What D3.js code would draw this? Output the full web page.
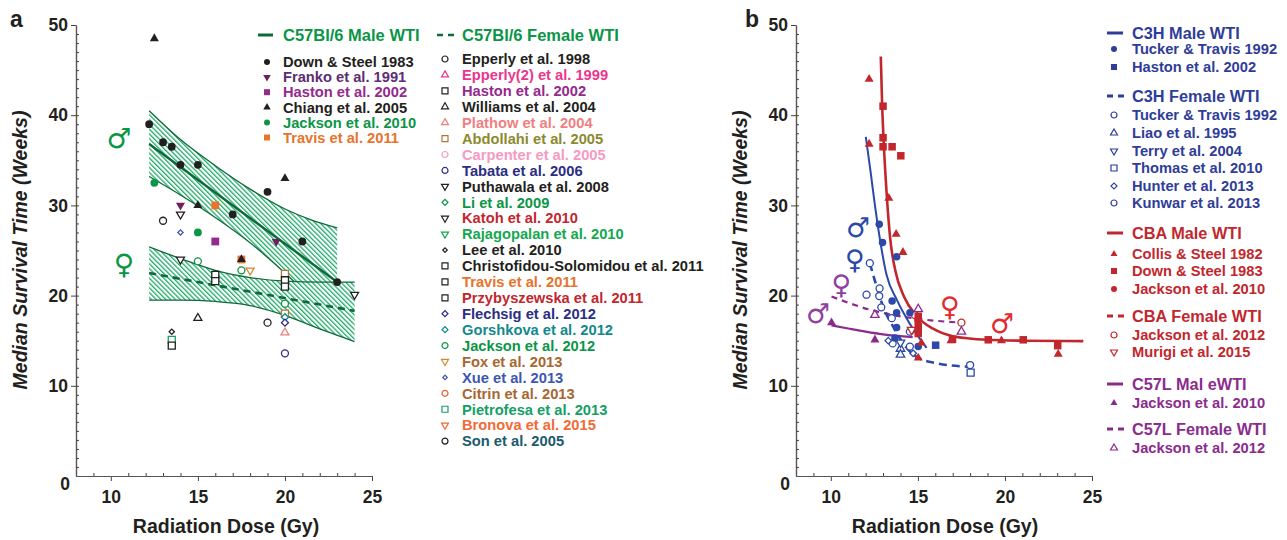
<!DOCTYPE html>
<html><head><meta charset="utf-8">
<script src="https://cdn.jsdelivr.net/npm/d3@7"></script>
<style>
body{margin:0;background:#fff}
svg{display:block}
text{font-family:"Liberation Sans",Arial,Helvetica,sans-serif;font-weight:bold}
.sex{font-family:"DejaVu Sans",sans-serif;font-weight:bold}
</style>
</head><body>
<svg id="c" width="1287" height="540"></svg>
<script>
// ---------------- DATA ----------------
const xTicks = [10, 15, 20, 25];
const yTicks = [10, 20, 30, 40, 50];

// Panel a: study names
const aMaleStudies = ["Down & Steel 1983","Franko et al. 1991","Haston et al. 2002","Chiang et al. 2005","Jackson et al. 2010","Travis et al. 2011"];
const aFemaleStudies = ["Epperly et al. 1998","Epperly(2) et al. 1999","Haston et al. 2002","Williams et al. 2004","Plathow et al. 2004","Abdollahi et al. 2005","Carpenter et al. 2005","Tabata et al. 2006","Puthawala et al. 2008","Li et al. 2009","Katoh et al. 2010","Rajagopalan et al. 2010","Lee et al. 2010","Christofidou-Solomidou et al. 2011","Travis et al. 2011","Przybyszewska et al. 2011","Flechsig et al. 2012","Gorshkova et al. 2012","Jackson et al. 2012","Fox et al. 2013","Xue et al. 2013","Citrin et al. 2013","Pietrofesa et al. 2013","Bronova et al. 2015","Son et al. 2005"];

// Panel a points: [study index, dose (Gy), median survival (weeks)]
const aMalePoints = [
  [0,12.2,39.0],[0,13.0,37.0],[0,13.5,36.5],[0,14.0,34.5],[0,15.0,34.5],[0,17.0,29.0],[0,19.0,31.5],[0,21.0,26.0],[0,23.0,21.5],
  [1,14.0,30.0],[1,19.5,26.0],
  [2,16.0,26.0],
  [4,12.5,32.5],[4,15.0,27.0],
  [5,16.0,30.0],[5,17.5,24.0],
  [3,12.5,48.5],[3,15.0,30.0],[3,20.0,33.0],[3,17.5,24.0]
];
const aFemalePoints = [
  [0,13.0,28.3],
  [8,14.0,29.0],[8,14.0,24.0],[8,24.0,20.1],
  [20,14.0,27.0],
  [18,15.0,23.8],[18,17.5,22.8],[18,20.0,19.1],
  [19,18.0,22.8],
  [13,16.0,22.3],[13,16.0,21.6],
  [5,20.0,22.4],[5,20.0,18.0],
  [14,20.0,21.7],
  [15,20.0,21.0],
  [17,20.0,17.6],
  [16,20.0,17.0],
  [4,20.0,15.9],
  [7,20.0,13.6],
  [24,19.0,17.0],
  [12,13.5,16.0],
  [22,13.5,15.1],
  [2,13.5,14.45],
  [3,15.0,17.5]
];
// Panel a fits and confidence bands
const aMaleFit = [[12.2,36.8],[23.0,21.5]];
const aMaleBandX = [12.2,14,16,18,20,21.5,23];
const aMaleBandUpper = [40.5,37.3,34.4,31.8,29.6,28.4,27.5];
const aMaleBandLower = [33.2,31.15,28.65,25.85,22.5,19.7,16.4];
const aFemaleFit = [[12.2,22.5],[24.0,18.3]];
const aFemaleBandX = [12.2,14,16,18,20,22,24];
const aFemaleBandUpper = [25.4,24.1,22.8,22.0,21.6,21.5,21.5];
const aFemaleBandLower = [19.5,19.5,19.35,18.9,17.8,16.3,14.9];

// Panel b groups and studies
const bGroups = ["C3H Male WTI","C3H Female WTI","CBA Male WTI","CBA Female WTI","C57L Mal eWTI","C57L Female WTI"];
const bC3HMaleStudies = ["Tucker & Travis 1992","Haston et al. 2002"];
const bC3HFemaleStudies = ["Tucker & Travis 1992","Liao et al. 1995","Terry et al. 2004","Thomas et al. 2010","Hunter  et al. 2013","Kunwar et al. 2013"];
const bCBAMaleStudies = ["Collis & Steel 1982","Down & Steel 1983","Jackson et al. 2010"];
const bCBAFemaleStudies = ["Jackson et al. 2012","Murigi et al. 2015"];
const bC57LMaleStudies = ["Jackson et al. 2010"];
const bC57LFemaleStudies = ["Jackson et al. 2012"];

// Panel b points: [group index, study index, dose, survival]
const bPoints = [
  [1,0,12.05,20.1],[1,0,12.8,20.8],[1,0,12.9,18.7],[1,0,13.5,17.5],[1,0,13.55,14.7],[1,0,14.54,16.0],[1,0,14.54,14.35],[1,0,18.0,12.3],
  [1,1,14.0,14.1],[1,1,14.0,13.45],
  [1,2,14.0,14.8],
  [1,3,18.03,11.45],
  [1,4,13.3,15.0],[1,4,14.73,13.6],
  [1,5,12.24,23.6],[1,5,12.78,19.95],
  [3,0,14.83,17.85],[3,0,17.5,17.0],
  [3,1,14.64,16.2],
  [5,0,12.53,17.85],[5,0,15.02,18.5],[5,0,17.5,16.0],
  [4,0,10.04,17.0],[4,0,12.53,15.1],
  [0,0,12.78,27.9],[0,0,12.97,25.9],[0,0,13.78,24.3],[0,0,13.52,19.4],[0,0,13.78,18.1],[0,0,14.54,18.1],[0,0,13.78,16.45],[0,0,13.68,15.3],[0,0,15.02,14.35],
  [0,1,16.02,14.5],
  [2,0,12.2,44.0],[2,0,12.2,36.8],[2,0,13.33,30.8],[2,0,13.75,26.8],[2,0,14.14,24.8],[2,0,15.2,14.75],[2,0,16.9,15.0],[2,0,19.8,15.0],[2,0,23.06,13.5],[2,0,15.02,13.1],
  [2,1,13.0,41.0],[2,1,13.0,37.5],[2,1,13.0,36.5],[2,1,13.52,36.5],[2,1,14.02,35.5],[2,1,15.02,17.7],[2,1,15.02,16.55],[2,1,15.02,15.8],[2,1,16.99,15.15],[2,1,19.04,15.1],[2,1,21.05,15.1],[2,1,23.03,14.45],
  [2,2,15.0,17.2]
];
// Panel b fitted curves
const bC3HMaleCurve = [[12.01,37.6],[12.3,33.5],[12.5,30.5],[12.8,26.5],[13.2,22.3],[13.8,19.5],[14.5,17.0],[15.5,14.2]];
const bC3HFemaleCurve = [[12.24,23.6],[12.63,21.0],[13.0,18.8],[13.58,16.55],[14.16,14.7],[14.93,13.2],[16.07,12.5],[18.0,12.1]];
const bCBAMaleCurve = [[12.87,46.5],[12.95,41],[13.05,36.5],[13.2,31.5],[13.4,26.5],[13.7,22.8],[14.2,19.9],[14.9,17.8],[15.9,16.3],[17.0,15.5],[19.0,15.1],[21.0,15.0],[24.5,14.95]];
const bC57LMaleCurve = [[10.04,16.7],[11,16.35],[12,16.0],[13,15.7],[14.7,15.4]];
const bC57LFemaleCurve = [[10.04,19.9],[12.5,18.3],[14.7,17.5],[17.5,17.0]];

// ---------------- STYLES ----------------
const GREEN = "#0b9547", DKGREEN = "#0d6a3a", HATCH = "#22ad6a";
const BLUE = "#2e3d98", BLUE2 = "#2c48a8", RED = "#c1272d", PURPLE = "#8b2c8d", BLACK = "#231f20";
// [text colour, marker, marker colour, filled]
const aMaleStyle = [
  [BLACK,"circle",BLACK,1],["#5c2d72","down","#6d1f5e",1],["#94298e","square","#94298e",1],
  [BLACK,"up",BLACK,1],[GREEN,"circle",GREEN,1],["#e8732c","square","#e8732c",1]];
const aFemaleStyle = [
  [BLACK,"circle",BLACK],["#e9368e","up","#e9368e"],["#94298e","square",BLACK],[BLACK,"up",BLACK],
  ["#f07f7f","up","#f07f7f"],["#8c8a2e","square","#b07537"],["#f59ac2","circle","#f59ac2"],["#2b2e83","circle","#2b2e83"],
  [BLACK,"down",BLACK],[GREEN,"diamond",GREEN],[RED,"down",BLACK],["#14a850","down","#14a850"],
  [BLACK,"sdiamond",BLACK],[BLACK,"square",BLACK],["#e8732c","square",BLACK],[RED,"square",BLACK],
  ["#2b2e83","diamond","#2b2e83"],["#12898c","diamond","#12898c"],[GREEN,"circle",GREEN],["#a8672e","down","#d4892f"],
  ["#3d56b0","sdiamond","#3d56b0"],["#a8672e","circle","#e8602c"],["#14a065","square","#14a065"],["#f26a36","down","#f26a36"],
  ["#1b5a6e","circle",BLACK]];
const bGroupColor = [BLUE, BLUE, RED, RED, PURPLE, PURPLE];
const bMarkColor = [BLUE2, BLUE2, RED, RED, PURPLE, PURPLE];
const bGroupDash = [false, true, false, true, false, true];
const bMarkStyle = [
  [["circle",1],["square",1]],
  [["circle",0],["up",0],["down",0],["square",0],["diamond",0],["circle",0]],
  [["up",1],["square",1],["circle",1]],
  [["circle",0],["down",0]],
  [["up",1]],
  [["up",0]]];
const bStudyLists = [bC3HMaleStudies,bC3HFemaleStudies,bCBAMaleStudies,bCBAFemaleStudies,bC57LMaleStudies,bC57LFemaleStudies];
const bHeaderY = [33, 96, 233, 316, 384, 429];
const bEntryY = [[49,67],[115,133,151,168,186,203],[254,271,289],[335,352],[403],[448]];

// ---------------- DRAW ----------------
const svg = d3.select("#c");
const defs = svg.append("defs");
const pat = defs.append("pattern").attr("id","hatch").attr("width",3.4).attr("height",3.4)
  .attr("patternUnits","userSpaceOnUse").attr("patternTransform","rotate(-45)");
pat.append("rect").attr("width",3.4).attr("height",3.4).attr("fill","#fff");
pat.append("rect").attr("width",1.3).attr("height",3.4).attr("fill",HATCH);

function mark(g, type, cx, cy, s, color, filled, sw) {
  let p, tr = `translate(${cx},${cy})`;
  if (type === "circle") p = d3.symbol(d3.symbolCircle, Math.PI*(s/2)*(s/2))();
  else if (type === "square") p = d3.symbol(d3.symbolSquare, s*s)();
  else if (type === "up" || type === "down") { p = d3.symbol(d3.symbolTriangle, Math.sqrt(3)/4*s*s)(); if (type==="down") tr += " rotate(180)"; }
  else { const q = type === "sdiamond" ? s*0.75 : s; p = d3.symbol(d3.symbolSquare, q*q/2)(); tr += " rotate(45)"; }
  g.append("path").attr("d", p).attr("transform", tr)
    .attr("fill", filled ? color : "#fff").attr("stroke", color)
    .attr("stroke-width", filled ? 0 : (sw || 1.3));
}

function axes(x, y, labelX, labelY, panelLetter, letterX) {
  const g = svg.append("g");
  const ax = g.append("g").attr("transform", `translate(0,${y(0)})`);
  ax.call(d3.axisBottom(x).tickValues(xTicks).tickSize(5).tickSizeOuter(0).tickPadding(10).tickFormat(d3.format("d")));
  const axm = g.append("g").attr("transform", `translate(0,${y(0)})`);
  axm.call(d3.axisBottom(x).tickValues(d3.range(9, 25).filter(v => v % 5)).tickSize(-3).tickSizeOuter(0).tickFormat(""));
  const ay = g.append("g").attr("transform", `translate(${x(8)},0)`);
  ay.call(d3.axisLeft(y).tickValues(yTicks).tickSize(5).tickSizeOuter(0).tickPadding(3).tickFormat(d3.format("d")));
  const aym = g.append("g").attr("transform", `translate(${x(8)},0)`);
  aym.call(d3.axisLeft(y).tickValues(d3.range(1, 50)).tickSize(-3).tickSizeOuter(0).tickFormat(""));
  g.selectAll(".domain").attr("stroke", "#555").attr("stroke-width", 1.2);
  g.selectAll(".tick line").attr("stroke", "#444");
  g.selectAll(".tick text").attr("font-size", 17.5).attr("fill", BLACK)
    .attr("font-family", '"Liberation Sans",Arial,sans-serif').attr("font-weight", "bold");
  g.append("text").attr("x", x(8) - 11).attr("y", y(0) + 14).attr("text-anchor", "middle")
    .attr("font-size", 17.5).attr("fill", BLACK).text("0");
  g.append("text").attr("x", labelX).attr("y", 533).attr("text-anchor", "middle")
    .attr("font-size", 19.5).attr("fill", BLACK).text("Radiation Dose (Gy)");
  g.append("text").attr("transform", `translate(${labelY},250) rotate(-90)`).attr("text-anchor", "middle")
    .attr("font-size", 19.5).attr("font-style", "italic").attr("fill", BLACK).text("Median Survival Time (Weeks)");
  g.append("text").attr("x", letterX).attr("y", 27).attr("font-size", 23).attr("fill", BLACK).text(panelLetter);
}

// ---- Panel a ----
const xA = d3.scaleLinear().domain([8, 25]).range([76, 372]);
const yA = d3.scaleLinear().domain([0, 50]).range([476, 25]);
const xB = d3.scaleLinear().domain([8, 25]).range([796, 1092]);
const yB = d3.scaleLinear().domain([0, 50]).range([476, 25]);

const pa = svg.append("g");
function band(xs, up, lo) {
  const d = xs.map((v, i) => [v, up[i], lo[i]]);
  const area = d3.area().x(e => xA(e[0])).y1(e => yA(e[1])).y0(e => yA(e[2])).curve(d3.curveMonotoneX);
  pa.append("path").attr("d", area(d)).attr("fill", "url(#hatch)").attr("stroke", "none");
  const lu = d3.line().x(e => xA(e[0])).y(e => yA(e[1])).curve(d3.curveMonotoneX);
  const ll = d3.line().x(e => xA(e[0])).y(e => yA(e[2])).curve(d3.curveMonotoneX);
  pa.append("path").attr("d", lu(d)).attr("fill", "none").attr("stroke", DKGREEN).attr("stroke-width", 1.3);
  pa.append("path").attr("d", ll(d)).attr("fill", "none").attr("stroke", DKGREEN).attr("stroke-width", 1.3);
}
band(aMaleBandX, aMaleBandUpper, aMaleBandLower);
band(aFemaleBandX, aFemaleBandUpper, aFemaleBandLower);
const lineA = d3.line().x(e => xA(e[0])).y(e => yA(e[1]));
pa.append("path").attr("d", lineA(aMaleFit)).attr("stroke", DKGREEN).attr("stroke-width", 2.4).attr("fill", "none");
pa.append("path").attr("d", lineA(aFemaleFit)).attr("stroke", DKGREEN).attr("stroke-width", 2.6).attr("fill", "none").attr("stroke-dasharray", "7,5");

aFemalePoints.forEach(p => {
  const s = aFemaleStyle[p[0]];
  mark(pa, s[1], xA(p[1]), yA(p[2]), s[1] === "up" || s[1] === "down" ? 8 : 7, s[2], false);
});
aMalePoints.forEach(p => {
  const s = aMaleStyle[p[0]];
  mark(pa, s[1], xA(p[1]), yA(p[2]), s[1] === "up" || s[1] === "down" ? 9 : 7.8, s[2], true);
});

// sex symbols panel a
pa.append("text").attr("class", "sex").attr("x", 119).attr("y", 138).attr("text-anchor", "middle").attr("dy", "0.35em")
  .attr("font-size", 28).attr("fill", GREEN).text("\u2642");
pa.append("text").attr("class", "sex").attr("x", 124).attr("y", 264).attr("text-anchor", "middle").attr("dy", "0.35em")
  .attr("font-size", 28).attr("fill", GREEN).text("\u2640");

// Legend panel a
const la = svg.append("g");
la.append("line").attr("x1", 258).attr("x2", 273).attr("y1", 35).attr("y2", 35).attr("stroke", DKGREEN).attr("stroke-width", 3);
la.append("text").attr("x", 283).attr("y", 35).attr("dy", "0.36em").attr("font-size", 16.5).attr("fill", GREEN).text("C57Bl/6 Male WTI");
aMaleStudies.forEach((n, i) => {
  const y = 62 + i * 15.1, s = aMaleStyle[i];
  mark(la, s[1], 267, y, s[1] === "up" || s[1] === "down" ? 7.5 : 6, s[2], true);
  la.append("text").attr("x", 283).attr("y", y).attr("dy", "0.36em").attr("font-size", 14.7).attr("fill", s[0]).text(n);
});
la.append("line").attr("x1", 437).attr("x2", 455).attr("y1", 35).attr("y2", 35).attr("stroke", DKGREEN).attr("stroke-width", 2.5).attr("stroke-dasharray", "6,5");
la.append("text").attr("x", 462).attr("y", 35).attr("dy", "0.36em").attr("font-size", 16.5).attr("fill", GREEN).text("C57Bl/6 Female WTI");
aFemaleStudies.forEach((n, i) => {
  const y = 59 + i * 15.92, s = aFemaleStyle[i];
  mark(la, s[1], 445, y, s[1] === "up" || s[1] === "down" ? 7 : 6, s[2], false, 1.2);
  la.append("text").attr("x", 462).attr("y", y).attr("dy", "0.36em").attr("font-size", 14.7).attr("fill", s[0]).text(n);
});

axes(xA, yA, 226, 27, "a", 10);

// ---- Panel b ----
const pb = svg.append("g");
const lineB = d3.line().x(e => xB(e[0])).y(e => yB(e[1])).curve(d3.curveMonotoneX);
pb.append("path").attr("d", lineB(bC57LFemaleCurve)).attr("fill", "none").attr("stroke", PURPLE).attr("stroke-width", 2.2).attr("stroke-dasharray", "6,5");
pb.append("path").attr("d", lineB(bC57LMaleCurve)).attr("fill", "none").attr("stroke", PURPLE).attr("stroke-width", 2.2);
pb.append("path").attr("d", lineB(bC3HFemaleCurve)).attr("fill", "none").attr("stroke", BLUE2).attr("stroke-width", 2.6).attr("stroke-dasharray", "8,5");
pb.append("path").attr("d", lineB(bC3HMaleCurve)).attr("fill", "none").attr("stroke", BLUE2).attr("stroke-width", 2);
pb.append("path").attr("d", lineB(bCBAMaleCurve)).attr("fill", "none").attr("stroke", RED).attr("stroke-width", 2.6);

bPoints.forEach(p => {
  const st = bMarkStyle[p[0]][p[1]];
  const sz = st[0] === "up" || st[0] === "down" ? 9 : (st[0] === "square" ? 7.5 : (st[0] === "diamond" ? 7 : 7.5));
  mark(pb, st[0], xB(p[2]), yB(p[3]), st[1] ? sz : sz - 0.5, bMarkColor[p[0]], st[1] === 1);
});

function sex(x, y, ch, col) {
  pb.append("text").attr("class", "sex").attr("x", x).attr("y", y).attr("text-anchor", "middle").attr("dy", "0.35em")
    .attr("font-size", 27).attr("fill", col).text(ch);
}
sex(858, 228, "\u2642", BLUE2);
sex(855, 260, "\u2640", BLUE2);
sex(841.5, 285, "\u2640", "#9040a0");
sex(818, 314, "\u2642", "#9040a0");
sex(950, 307, "\u2640", "#e32a2f");
sex(1002, 324, "\u2642", "#e32a2f");

// Legend panel b
const lb = svg.append("g");
bGroups.forEach((gname, gi) => {
  const hy = bHeaderY[gi], col = bGroupColor[gi];
  lb.append("line").attr("x1", 1107).attr("x2", bGroupDash[gi] ? 1125 : 1123).attr("y1", hy).attr("y2", hy)
    .attr("stroke", col).attr("stroke-width", 3).attr("stroke-dasharray", bGroupDash[gi] ? "6,5" : null);
  lb.append("text").attr("x", 1132).attr("y", hy).attr("dy", "0.36em").attr("font-size", 16.3).attr("fill", col).text(gname);
  bStudyLists[gi].forEach((n, si) => {
    const y = bEntryY[gi][si], st = bMarkStyle[gi][si];
    mark(lb, st[0], 1114, y, st[0] === "up" || st[0] === "down" ? 7 : 6, col, st[1] === 1, 1.2);
    lb.append("text").attr("x", 1132).attr("y", y).attr("dy", "0.36em").attr("font-size", 14.7).attr("fill", col).text(n);
  });
});

axes(xB, yB, 945, 747, "b", 745);
</script>
</body></html>
